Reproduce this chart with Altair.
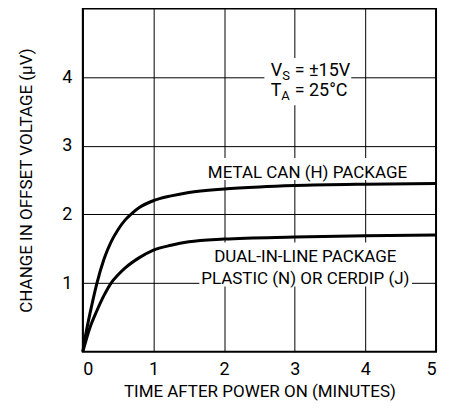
import altair as alt
import pandas as pd

FONT = "Roboto"

# Curves
metal_x = [0, 0.05, 0.1, 0.2, 0.3, 0.4, 0.5, 0.6, 0.7, 0.8, 1.0, 1.25, 1.5, 2.0, 2.5, 3.0, 4.0, 5.0]
metal_y = [0, 0.3, 0.55, 1.0, 1.35, 1.6, 1.78, 1.92, 2.02, 2.1, 2.2, 2.27, 2.32, 2.37, 2.4, 2.42, 2.44, 2.45]
dip_x = [0, 0.1, 0.2, 0.3, 0.4, 0.5, 0.6, 0.8, 1.0, 1.25, 1.5, 2.0, 3.0, 4.0, 5.0]
dip_y = [0, 0.35, 0.6, 0.82, 1.0, 1.12, 1.22, 1.37, 1.48, 1.55, 1.6, 1.64, 1.67, 1.69, 1.70]

x_ticks = [0, 1, 2, 3, 4, 5]
y_ticks = [1, 2, 3, 4]

# White boxes behind annotation text (data coordinates)
box_x = [2.57, 1.81, 1.65]
box_x2 = [3.80, 4.56, 4.66]
box_y = [3.59, 2.50, 0.95]
box_y2 = [4.28, 2.82, 1.59]

# Centered annotation labels
lab_text = ["METAL CAN (H) PACKAGE", "DUAL-IN-LINE PACKAGE", "PLASTIC (N) OR CERDIP (J)"]
lab_x = [3.18, 3.15, 3.15]
lab_y = [2.53, 1.31, 0.99]

curves = pd.concat([
    pd.DataFrame({"t": metal_x, "v": metal_y, "s": "metal"}),
    pd.DataFrame({"t": dip_x, "v": dip_y, "s": "dip"}),
])
boxes = pd.DataFrame({"x": box_x, "x2": box_x2, "y": box_y, "y2": box_y2})
labels = pd.DataFrame({"text": lab_text, "x": lab_x, "y": lab_y})

xs = alt.Scale(domain=[0, 5], nice=False)
ys = alt.Scale(domain=[0, 5], nice=False)

xax = alt.Axis(values=x_ticks, format="d", title="TIME AFTER POWER ON (MINUTES)", grid=True,
               gridColor="black", gridWidth=1, gridOpacity=1, domain=False, ticks=False,
               labelPadding=9, labelFont=FONT, labelFontSize=18, labelColor="black",
               titleFont=FONT, titleFontSize=17, titleFontWeight="normal", titleColor="black",
               titlePadding=5)
yax = alt.Axis(values=y_ticks, format="d", title="CHANGE IN OFFSET VOLTAGE (µV)", grid=True,
               gridColor="black", gridWidth=1, gridOpacity=1, domain=False, ticks=False,
               labelPadding=11, labelFont=FONT, labelFontSize=18, labelColor="black",
               titleFont=FONT, titleFontSize=17, titleFontWeight="normal", titleColor="black",
               titlePadding=26)

lines = alt.Chart(curves).mark_line(color="black", strokeWidth=3, interpolate="monotone").encode(
    x=alt.X("t:Q", scale=xs, axis=xax),
    y=alt.Y("v:Q", scale=ys, axis=yax),
    detail="s:N",
)

rects = alt.Chart(boxes).mark_rect(color="white").encode(
    x=alt.X("x:Q", scale=xs), x2="x2", y=alt.Y("y:Q", scale=ys), y2="y2"
)

texts = alt.Chart(labels).mark_text(font=FONT, fontSize=17, color="black", baseline="alphabetic").encode(
    x=alt.X("x:Q", scale=xs), y=alt.Y("y:Q", scale=ys), text="text:N"
)

# V_S = ±15V and T_A = 25°C
cond_main = ["V", "= ±15V", "T", "= 25°C"]
cond_sub = ["S", "A"]
cond_x = 2.66
cond_y1 = 4.01
cond_y2 = 3.72

def piece(txt, yv, dx, dy, size):
    return alt.Chart(pd.DataFrame({"text": [txt], "x": [cond_x], "y": [yv]})).mark_text(
        font=FONT, fontSize=size, color="black", align="left", baseline="alphabetic", dx=dx, dy=dy
    ).encode(x=alt.X("x:Q", scale=xs), y=alt.Y("y:Q", scale=ys), text="text:N")

cond = [
    piece(cond_main[0], cond_y1, 0, 0, 18),
    piece(cond_sub[0], cond_y1, 11.5, 4, 13),
    piece(cond_main[1], cond_y1, 24, 0, 18),
    piece(cond_main[2], cond_y2, 0, 0, 18),
    piece(cond_sub[1], cond_y2, 10.5, 4, 13),
    piece(cond_main[3], cond_y2, 24, 0, 18),
]

chart = alt.layer(rects, lines, texts, *cond).properties(
    width=354, height=344,
    autosize=alt.AutoSizeParams(type="none"),
    padding={"left": 75, "top": 0, "right": 10, "bottom": 56},
    background="white",
).configure_view(stroke="black", strokeWidth=2)

chart.save("out.html", embed_options={"renderer": "svg", "actions": False})
